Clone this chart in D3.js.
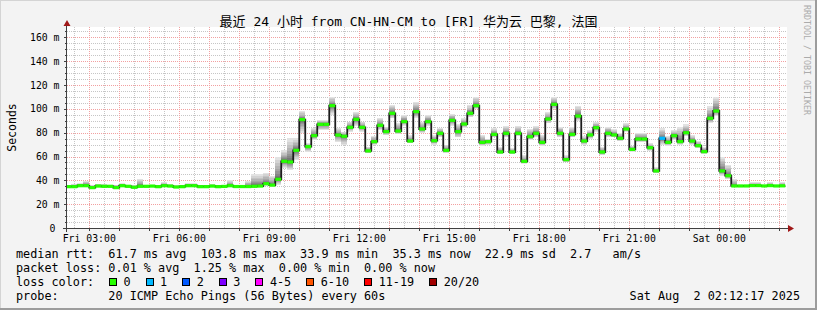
<!DOCTYPE html>
<html><head><meta charset="utf-8">
<script src="https://cdn.jsdelivr.net/npm/d3@7"></script>
<style>html,body{margin:0;padding:0;background:#f3f3f3;} svg{display:block;} text{white-space:pre;}</style>
</head><body><svg id="c" width="817" height="310"></svg>
<script>
// ---------------- DATA ----------------
const titleText = "最近 24 小时 from CN-HN-CM to [FR] 华为云 巴黎, 法国";
const yTickValues = [0, 20, 40, 60, 80, 100, 120, 140, 160];
const stepMinutes = 12;
// median rtt (ms) per 12-minute step, starting Fri 02:12
const medians = [
 34.7,34.7,35.5,35.5,33.9,35.2,35.0,35.0,33.9,35.5,
 35.0,34.2,35.0,35.0,35.2,34.7,35.5,35.2,34.4,34.7,
 35.5,35.5,34.7,34.7,35.2,34.7,34.9,35.5,34.8,34.8,
 34.8,35.0,35.2,37.2,36.0,40.9,56.0,55.4,65.2,91.0,
 68.3,77.5,87.0,87.0,102.7,78.0,77.0,84.5,91.2,84.5,
 64.7,72.5,86.2,80.9,96.3,81.4,89.3,73.0,97.7,83.1,
 89.3,73.3,79.5,65.2,90.4,80.9,87.3,96.3,102.7,71.9,
 72.5,78.6,63.8,79.5,63.8,79.5,56.0,76.7,79.5,71.9,
 91.5,103.8,79.5,57.4,78.6,94.0,73.0,78.1,84.2,63.8,
 79.5,78.1,75.3,83.1,66.0,74.7,74.7,67.4,47.9,75.3,
 71.9,77.5,72.5,80.0,73.0,69.1,64.1,92.1,98.2,47.9,
 43.9,35.3,35.3,35.3,35.6,35.6,35.3,35.6,35.3,35.4];
// slowest ping (top of smoke) per step
const smokeHi = [
 36.0,37.0,37.5,39.5,36.0,37.3,37.0,36.5,36.5,37.5,
 36.5,36.0,41.0,36.5,36.5,36.0,38.5,37.0,36.0,36.5,
 37.5,37.5,36.5,36.5,37.0,36.5,36.5,40.0,36.5,36.5,
 39.5,45.0,45.0,46.5,44.0,60.0,65.5,75.3,75.3,98.2,
 71.0,83.7,90.7,90.7,110.0,83.7,80.9,89.3,97.7,89.3,
 68.3,77.5,92.1,85.0,103.3,87.9,95.0,78.0,106.0,89.0,
 95.0,78.0,84.0,70.0,96.0,87.0,92.0,103.0,110.0,78.0,
 75.0,84.0,68.0,86.0,67.0,86.0,61.0,83.0,86.0,78.0,
 97.0,110.0,85.0,61.0,85.0,102.7,77.0,82.0,89.0,68.0,
 85.0,83.0,80.0,88.0,69.0,80.0,80.0,71.0,51.0,83.7,
 77.0,82.0,85.0,87.0,78.0,73.0,68.0,102.0,110.0,60.0,
 53.0,41.0,36.5,36.5,38.5,38.5,36.5,38.3,36.5,38.3];
// fastest ping (bottom of smoke) per step
const smokeLo = [
 34.0,34.0,34.8,34.8,33.2,34.5,34.3,34.3,33.2,34.8,
 34.3,33.5,34.3,34.3,34.5,34.0,34.8,34.5,33.7,34.0,
 34.8,34.8,34.0,34.0,34.5,34.0,34.2,34.8,34.1,34.1,
 34.1,34.2,34.4,35.5,34.8,36.5,50.4,48.7,57.0,80.0,
 64.0,74.0,82.0,82.0,95.0,72.5,69.7,81.0,86.0,81.0,
 62.7,69.7,82.3,78.0,92.1,78.6,86.0,71.0,92.0,80.0,
 86.0,70.0,76.0,63.0,86.0,76.0,84.0,93.0,100.0,69.0,
 70.0,76.0,62.0,76.0,62.0,77.0,54.0,74.0,76.0,69.0,
 88.0,100.0,76.0,55.0,76.0,90.0,70.0,75.0,81.0,61.0,
 76.0,76.0,73.0,81.0,64.0,72.0,72.0,65.0,46.0,70.0,
 69.0,74.0,70.0,77.0,70.0,67.0,62.0,88.0,94.0,44.0,
 41.0,34.5,34.6,34.6,34.8,34.8,34.6,34.8,34.6,34.7];
// lost pings per step (index into loss colour bins)
const lossBin = [
 0,0,0,0,0,0,0,0,0,0, 0,0,0,0,0,0,0,0,0,0,
 0,0,0,0,0,0,0,0,0,0, 0,0,0,0,0,0,0,0,0,0,
 0,0,0,0,0,0,0,0,0,0, 0,0,0,0,0,0,0,0,0,0,
 0,0,0,0,0,0,0,0,0,0, 0,0,0,0,0,0,0,0,0,0,
 0,0,0,0,0,0,0,0,0,0, 0,0,0,0,0,0,0,0,0,1,
 0,0,0,0,0,0,0,0,0,0, 0,0,0,0,0,0,0,0,0,0];
const lossLabels = ["0","1","2","3","4-5","6-10","11-19","20/20"];
const lossColors = ["#26ff00","#00b8ff","#0059ff","#7e00ff","#ff00ff","#ff5500","#ff0000","#a10000"];
const legendLines = [
 "median rtt:  61.7 ms avg  103.8 ms max  33.9 ms min  35.3 ms now  22.9 ms sd  2.7   am/s",
 "packet loss: 0.01 % avg  1.25 % max  0.00 % min  0.00 % now"
];
const lossTitle = "loss color:";
const probeLine = "probe:       20 ICMP Echo Pings (56 Bytes) every 60s";
const dateText = "Sat Aug  2 02:12:17 2025";
const watermark = "RRDTOOL / TOBI OETIKER";

// ---------------- DRAW ----------------
const W = 817, H = 310;
const svg = d3.select("#c");
const mono = '"DejaVu Sans Mono","Noto Sans CJK SC",monospace';

svg.append("rect").attr("width", W).attr("height", H).attr("fill", "#f3f3f3");
svg.append("rect").attr("x",0).attr("y",0).attr("width",W).attr("height",1).attr("fill","#d4d4d4");
svg.append("rect").attr("x",0).attr("y",0).attr("width",1).attr("height",H).attr("fill","#d4d4d4");
svg.append("rect").attr("x",0).attr("y",H-2).attr("width",W).attr("height",2).attr("fill","#9c9c9c");
svg.append("rect").attr("x",W-2).attr("y",0).attr("width",2).attr("height",H).attr("fill","#9c9c9c");

const X0 = 67, X1 = 787, Y0 = 228, Y1 = 27;
const start = new Date(Date.UTC(2025, 7, 1, 2, 15, 30));
const end = new Date(+start + 24 * 3600e3);
const dataStart = new Date(Date.UTC(2025, 7, 1, 2, 12, 0));
const x = d3.scaleUtc().domain([start, end]).range([X0, X1]);
const y = d3.scaleLinear().domain([0, (Y0 - Y1) / (190.6 / 160)]).range([Y0, Y1]);

svg.append("rect").attr("x", X0).attr("y", Y1).attr("width", X1 - X0).attr("height", Y0 - Y1).attr("fill", "#ffffff");

// grid
const grid = svg.append("g");
const minorY = d3.range(5, y.domain()[1], 5).filter(v => v % 20 !== 0);
const majorY = yTickValues.filter(v => v > 0);
grid.selectAll(".hmin").data(minorY).join("line")
  .attr("x1", X0).attr("x2", X1)
  .attr("y1", d => Math.round(y(d)) + 0.5).attr("y2", d => Math.round(y(d)) + 0.5)
  .attr("stroke", "#c6c6c6").attr("stroke-dasharray", "1,1");
const halfHours = d3.utcMinute.every(30).range(start, end);
grid.selectAll(".vmin").data(halfHours.filter(d => d.getUTCMinutes() !== 0)).join("line")
  .attr("y1", Y1).attr("y2", Y0)
  .attr("x1", d => Math.round(x(d)) + 0.5).attr("x2", d => Math.round(x(d)) + 0.5)
  .attr("stroke", "#c6c6c6").attr("stroke-dasharray", "1,1");
grid.selectAll(".hmaj").data(majorY).join("line")
  .attr("x1", X0).attr("x2", X1)
  .attr("y1", d => Math.round(y(d)) + 0.5).attr("y2", d => Math.round(y(d)) + 0.5)
  .attr("stroke", "#f2a0a0").attr("stroke-dasharray", "1,1");
const hours = d3.utcHour.every(1).range(start, end);
grid.selectAll(".vmaj").data(hours).join("line")
  .attr("y1", Y1).attr("y2", Y0)
  .attr("x1", d => Math.round(x(d)) + 0.5).attr("x2", d => Math.round(x(d)) + 0.5)
  .attr("stroke", "#f2a0a0").attr("stroke-dasharray", "1,1");

// data
svg.append("clipPath").attr("id", "clip").append("rect")
  .attr("x", X0).attr("y", Y1).attr("width", X1 - X0).attr("height", Y0 - Y1);
const plot = svg.append("g").attr("clip-path", "url(#clip)");
const steps = medians.map((m, i) => ({
  t0: new Date(+dataStart + i * stepMinutes * 60e3),
  t1: new Date(+dataStart + (i + 1) * stepMinutes * 60e3),
  med: m, hi: smokeHi[i], lo: smokeLo[i], loss: lossBin[i]
}));
const nBands = 10;
for (let k = 0; k < nBands; k++) {
  const f = Math.pow((nBands - k) / nBands, 1.5);
  const g = Math.round(0xe2 - k * (0xe2 - 0x58) / (nBands - 1));
  const col = d3.rgb(g, g, g).formatHex();
  plot.append("g").selectAll("rect").data(steps).join("rect")
    .attr("x", d => x(d.t0)).attr("width", d => x(d.t1) - x(d.t0))
    .attr("y", d => y(d.med + (d.hi - d.med) * f))
    .attr("height", d => y(d.med - (d.med - d.lo) * f) - y(d.med + (d.hi - d.med) * f))
    .attr("fill", col).attr("shape-rendering", "crispEdges");
}
const linePts = steps.map(d => [d.t0, d.med]).concat([[steps[steps.length - 1].t1, steps[steps.length - 1].med]]);
plot.append("path").datum(linePts)
  .attr("d", d3.line().x(d => x(d[0])).y(d => y(d[1])).curve(d3.curveStepAfter))
  .attr("fill", "none").attr("stroke", "#1c1c1c").attr("stroke-width", 1.8);
plot.append("g").selectAll("rect").data(steps).join("rect")
  .attr("x", d => x(d.t0)).attr("width", d => x(d.t1) - x(d.t0))
  .attr("y", d => y(d.med) - 1.6).attr("height", 3.2)
  .attr("fill", d => lossColors[d.loss]);

// axes
const axisCol = "#404040";
svg.append("line").attr("x1", 66.5).attr("x2", 66.5).attr("y1", 232).attr("y2", 24).attr("stroke", axisCol);
svg.append("line").attr("x1", 63).attr("x2", 790).attr("y1", 228.5).attr("y2", 228.5).attr("stroke", axisCol);
svg.append("path").attr("d", "M63.5,26 L70.5,26 L67,20 Z").attr("fill", "#a01818");
svg.append("path").attr("d", "M788,225 L788,232 L794,228.5 Z").attr("fill", "#a01818");
svg.selectAll(".ytk").data(yTickValues.filter(v => v > 0)).join("line")
  .attr("x1", 64).attr("x2", 67)
  .attr("y1", d => Math.round(y(d)) + 0.5).attr("y2", d => Math.round(y(d)) + 0.5)
  .attr("stroke", axisCol);
svg.selectAll(".ytk2").data(minorY).join("line")
  .attr("x1", 65).attr("x2", 67)
  .attr("y1", d => Math.round(y(d)) + 0.5).attr("y2", d => Math.round(y(d)) + 0.5)
  .attr("stroke", axisCol);
svg.selectAll(".xtk").data(hours).join("line")
  .attr("y1", 228).attr("y2", 231)
  .attr("x1", d => Math.round(x(d)) + 0.5).attr("x2", d => Math.round(x(d)) + 0.5)
  .attr("stroke", axisCol);

// labels
const small = 9.8;
svg.selectAll(".ylab").data(yTickValues).join("text")
  .attr("x", d => d === 0 ? 55.3 : 59.5).attr("y", d => y(d) + 3.6)
  .attr("text-anchor", "end").attr("font-family", mono).attr("font-size", small).attr("fill", "#000")
  .text(d => d === 0 ? "0" : d + " m");
const fmt = d3.utcFormat("%a %H:%M");
svg.selectAll(".xlab").data(d3.utcHour.every(3).range(start, end)).join("text")
  .attr("x", d => x(d)).attr("y", 241.5)
  .attr("text-anchor", "middle").attr("font-family", mono).attr("font-size", small).attr("fill", "#000")
  .text(d => fmt(d));
svg.append("text").attr("transform", "translate(15.5,127.5) rotate(-90)")
  .attr("text-anchor", "middle").attr("font-family", mono).attr("font-size", 11.5).attr("fill", "#000")
  .text("Seconds");
svg.append("text").attr("x", 408.5).attr("y", 26).attr("text-anchor", "middle")
  .attr("font-family", mono).attr("font-size", 13.0).attr("fill", "#000").text(titleText);
svg.append("text").attr("transform", "translate(804,5) rotate(90)")
  .attr("font-family", mono).attr("font-size", 8.3).attr("fill", "#ababab").text(watermark);

// legend
const lf = 11.8, cw = lf * 0.6021, LX = 16;
legendLines.forEach((s, i) => {
  svg.append("text").attr("x", LX).attr("y", 258 + i * 14).attr("xml:space", "preserve")
    .attr("font-family", mono).attr("font-size", lf).attr("fill", "#000").text(s);
});
svg.append("text").attr("x", LX).attr("y", 286).attr("font-family", mono).attr("font-size", lf).attr("fill", "#000").text(lossTitle);
let bx = 109;
lossLabels.forEach((lab, i) => {
  svg.append("rect").attr("x", Math.round(bx) + 0.5).attr("y", 278.5).attr("width", 7).attr("height", 7)
    .attr("fill", lossColors[i]).attr("stroke", "#000");
  svg.append("text").attr("x", bx + 14.5).attr("y", 286).attr("font-family", mono).attr("font-size", lf).attr("fill", "#000").text(lab);
  bx += 14.5 + lab.length * cw + 15;
});
svg.append("text").attr("x", LX).attr("y", 300).attr("xml:space", "preserve")
  .attr("font-family", mono).attr("font-size", lf).attr("fill", "#000").text(probeLine);
svg.append("text").attr("x", 800).attr("y", 300).attr("text-anchor", "end").attr("xml:space", "preserve")
  .attr("font-family", mono).attr("font-size", lf).attr("fill", "#000").text(dateText);
</script>
</body></html>
